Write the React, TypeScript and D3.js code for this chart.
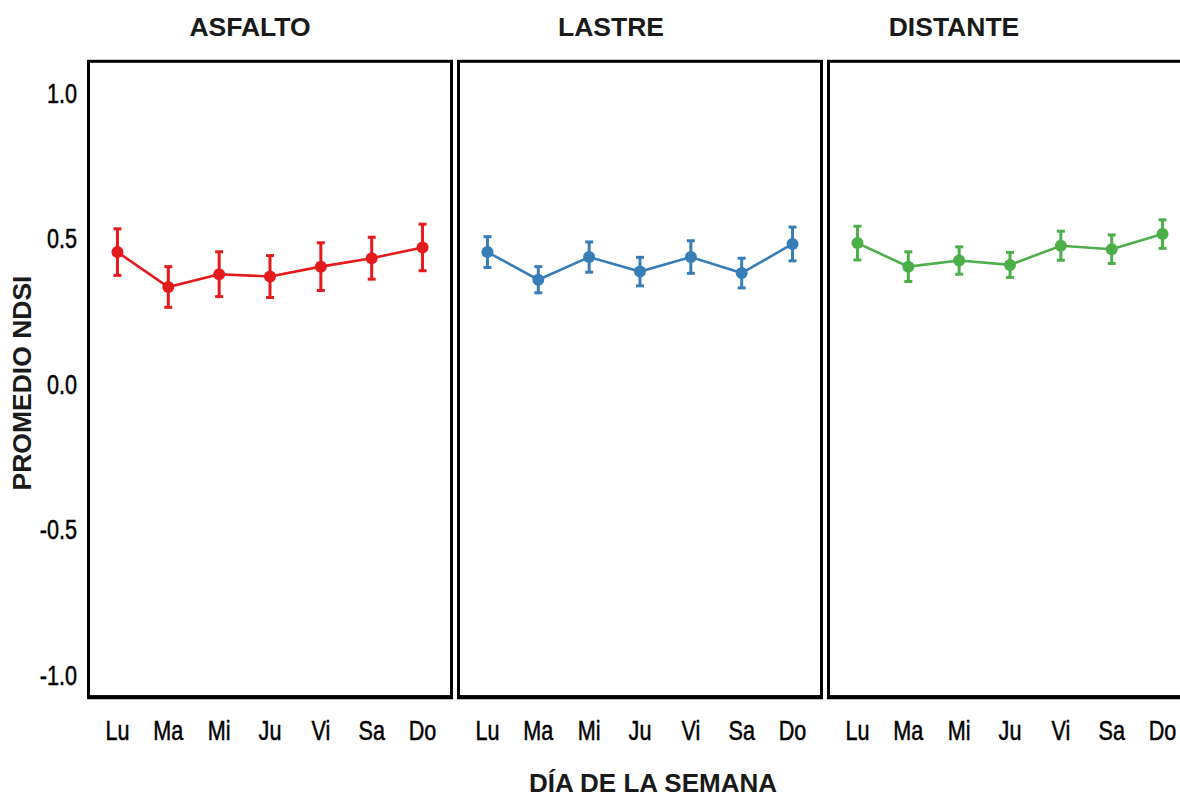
import React, { useEffect, useRef } from "react";
import * as d3 from "d3";

// Days of the week (Spanish abbreviations)
const days = ["Lu", "Ma", "Mi", "Ju", "Vi", "Sa", "Do"];

// Site names, one facet each
const sites = ["ASFALTO", "LASTRE", "DISTANTE"];
const siteColors = ["#E41A1C", "#377EB8", "#4DAF4A"];

// Mean NDSI per day and half-width of the error bar
const asfaltoMean = [0.454, 0.334, 0.378, 0.370, 0.404, 0.433, 0.470];
const asfaltoErr = [0.080, 0.070, 0.077, 0.072, 0.082, 0.072, 0.080];

const lastreMean = [0.454, 0.359, 0.437, 0.387, 0.437, 0.382, 0.482];
const lastreErr = [0.053, 0.045, 0.052, 0.049, 0.056, 0.051, 0.058];

const distanteMean = [0.485, 0.404, 0.425, 0.410, 0.476, 0.464, 0.516];
const distanteErr = [0.058, 0.051, 0.047, 0.043, 0.050, 0.049, 0.049];

const yTicks = [-1.0, -0.5, 0.0, 0.5, 1.0];

const W = 1180;
const H = 799;

// horizontal squeeze applied to tick labels to get a condensed face
const NARROW = 0.8;

export default function App() {
  const ref = useRef<SVGSVGElement | null>(null);

  useEffect(() => {
    const svg = d3.select(ref.current);
    svg.selectAll("*").remove();

    const series = [
      { mean: asfaltoMean, err: asfaltoErr },
      { mean: lastreMean, err: lastreErr },
      { mean: distanteMean, err: distanteErr },
    ];

    const y = d3.scaleLinear().domain([-1, 1]).range([675, 93.3]);
    const top = y(1.11);
    const bottom = y(-1.075);

    const panelLeft0 = 88.5;
    const panelW = 363;
    const panelStep = 370;

    const tickFont = "'Liberation Sans', Arial, Helvetica, sans-serif";
    const titleFont = "'Liberation Sans', Arial, Helvetica, sans-serif";

    // y tick labels
    svg
      .append("g")
      .selectAll("text")
      .data(yTicks)
      .join("text")
      .attr("transform", (d) => `translate(77,${y(d)}) scale(${NARROW},1)`)
      .attr("dy", "0.36em")
      .attr("text-anchor", "end")
      .attr("font-family", tickFont)
      .attr("font-size", 27)
      .attr("fill", "#000")
      .attr("stroke", "#000")
      .attr("stroke-width", 0.5)
      .text((d) => d.toFixed(1));

    const titleX = [250, 611, 954];

    series.forEach((s, i) => {
      const x0 = panelLeft0 + i * panelStep;
      const x1 = x0 + panelW;
      const g = svg.append("g");
      const color = siteColors[i];

      const x = d3
        .scalePoint<string>()
        .domain(days)
        .range([x0 + 1.5, x1 - 1.5])
        .padding(0.54);

      // panel frame
      g.append("rect")
        .attr("x", x0)
        .attr("y", top)
        .attr("width", panelW)
        .attr("height", bottom - top)
        .attr("fill", "none")
        .attr("stroke", "#000")
        .attr("stroke-width", 3);
      g.append("line")
        .attr("x1", x0 - 1.5)
        .attr("x2", x1 + 1.5)
        .attr("y1", bottom + 0.5)
        .attr("y2", bottom + 0.5)
        .attr("stroke", "#000")
        .attr("stroke-width", 4);

      // facet title
      svg
        .append("text")
        .attr("x", titleX[i])
        .attr("y", 36)
        .attr("text-anchor", "middle")
        .attr("font-family", titleFont)
        .attr("font-weight", "bold")
        .attr("font-size", 26.5)
        .attr("fill", "#1a1a1a")
        .text(sites[i]);

      // x tick labels
      g.append("g")
        .selectAll("text")
        .data(days)
        .join("text")
        .attr("transform", (d) => `translate(${x(d)},740) scale(${NARROW},1)`)
        .attr("text-anchor", "middle")
        .attr("font-family", tickFont)
        .attr("font-size", 27)
        .attr("fill", "#000")
        .attr("stroke", "#000")
        .attr("stroke-width", 0.5)
        .text((d) => d);

      const pts = days.map((d, k) => ({ day: d, m: s.mean[k], e: s.err[k] }));

      // error bars
      const eb = g.append("g").attr("stroke", color).attr("stroke-width", 3);
      pts.forEach((p) => {
        const cx = x(p.day)!;
        eb.append("line")
          .attr("x1", cx)
          .attr("x2", cx)
          .attr("y1", y(p.m + p.e))
          .attr("y2", y(p.m - p.e));
        [p.m + p.e, p.m - p.e].forEach((v) => {
          eb.append("line")
            .attr("x1", cx - 4)
            .attr("x2", cx + 4)
            .attr("y1", y(v))
            .attr("y2", y(v));
        });
      });

      // connecting line
      const line = d3
        .line<{ day: string; m: number }>()
        .x((p) => x(p.day)!)
        .y((p) => y(p.m));
      g.append("path")
        .attr("d", line(pts))
        .attr("fill", "none")
        .attr("stroke", color)
        .attr("stroke-width", 2.6);

      // points
      g.append("g")
        .selectAll("circle")
        .data(pts)
        .join("circle")
        .attr("cx", (p) => x(p.day)!)
        .attr("cy", (p) => y(p.m))
        .attr("r", 6)
        .attr("fill", color);
    });

    // axis titles
    svg
      .append("text")
      .attr("x", 653)
      .attr("y", 792)
      .attr("text-anchor", "middle")
      .attr("font-family", titleFont)
      .attr("font-weight", "bold")
      .attr("font-size", 26)
      .attr("fill", "#1a1a1a")
      .text("DÍA DE LA SEMANA");

    svg
      .append("text")
      .attr("transform", `translate(31,383) rotate(-90)`)
      .attr("text-anchor", "middle")
      .attr("font-family", titleFont)
      .attr("font-weight", "bold")
      .attr("font-size", 26.5)
      .attr("fill", "#1a1a1a")
      .text("PROMEDIO NDSI");
  }, []);

  return (
    <svg
      ref={ref}
      width={W}
      height={H}
      style={{ position: "absolute", left: 0, top: 0, display: "block", background: "#fff", overflow: "hidden" }}
    />
  );
}
